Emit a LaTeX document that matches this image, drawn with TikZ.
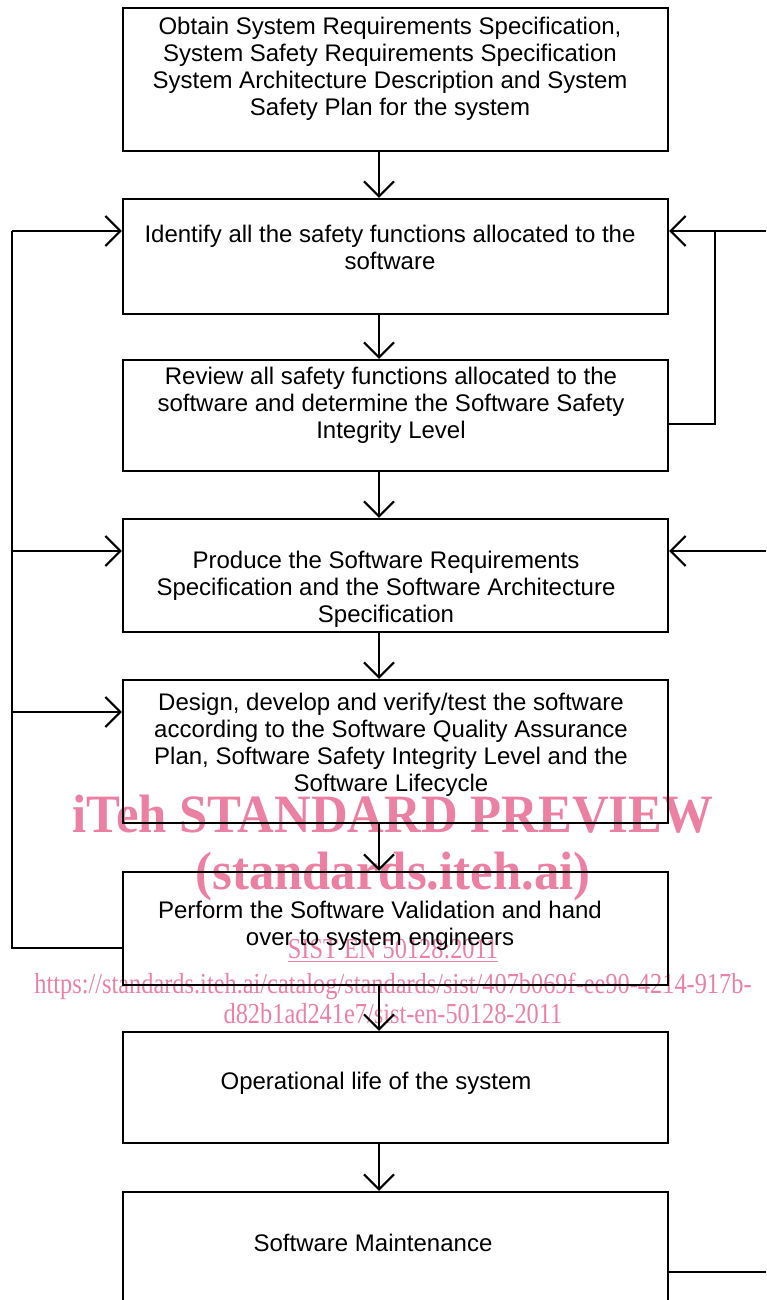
\documentclass[tikz,border=0pt]{standalone}
\usepackage{fontspec}
\setmainfont{Liberation Sans}
\newfontfamily\wmbold[FakeStretch=0.94]{Liberation Serif}
\newfontfamily\wmnarrow[FakeStretch=0.84]{Liberation Serif}
\usetikzlibrary{arrows.meta}
\definecolor{wmpink}{RGB}{236,128,162}
\tikzset{
x=0.5pt, y=-0.5pt, % one unit per pixel, y grows downwards
box/.style={rectangle, draw=black, line width=1.1pt, minimum width=272.5pt, inner sep=0pt}, % process boxes
txt/.style={align=center, inner sep=0pt, font=\fontsize{12}{13.5}\selectfont}, % text inside the boxes
flow/.style={-{Straight Barb[length=7.5pt, width=15pt]}, line width=1.1pt}, % open arrow heads
link/.style={line width=1.1pt},
wmbig/.style={anchor=base, text=wmpink, font=\wmbold\bfseries\fontsize{27}{27}\selectfont},
wmsmall/.style={anchor=base, text=wmpink, font=\wmnarrow\fontsize{14.5}{14.5}\selectfont},
}

\begin{document}
\begin{tikzpicture}
  \useasboundingbox (0,0) rectangle (766,1300);

  % preview stamp, underneath everything
  \node[wmbig] (wm1) at (393,832) {iTeh STANDARD PREVIEW};
  \node[wmbig] (wm2) at (393,889) {(standards.iteh.ai)};
  \node[wmsmall] (wm3) at (393,958) {\underline{SIST EN 50128:2011}};
  \node[wmsmall] (wm4) at (393,993) {https://standards.iteh.ai/catalog/standards/sist/407b069f-ee90-4214-917b-};
  \node[wmsmall] (wm5) at (393,1023) {d82b1ad241e7/sist-en-50128-2011};

  % boxes
  \node[box, minimum height=71.5pt] (obtain) at (395.5,79.5) {};
  \node[box, minimum height=57.5pt] (identify) at (395.5,256.5) {};
  \node[box, minimum height=55.5pt] (review) at (395.5,415.5) {};
  \node[box, minimum height=56.5pt] (produce) at (395.5,575.5) {};
  \node[box, minimum height=71.5pt] (design) at (395.5,751.5) {};
  \node[box, minimum height=56.5pt] (validate) at (395.5,928.5) {};
  \node[box, minimum height=55.5pt] (operate) at (395.5,1087.5) {};
  \node[box, minimum height=74pt] (maintain) at (395.5,1266) {};

  \node[txt] (obtain-txt) at (390,68.5) {Obtain System Requirements Specification,\\System Safety Requirements Specification\\System Architecture Description and System\\Safety Plan for the system};
  \node[txt] (identify-txt) at (390,247.5) {Identify all the safety functions allocated to the\\software};
  \node[txt] (review-txt) at (391,405) {Review all safety functions allocated to the\\software and determine the Software Safety\\Integrity Level};
  \node[txt] (produce-txt) at (386,589) {Produce the Software Requirements\\Specification and the Software Architecture\\Specification};
  \node[txt] (design-txt) at (391,744.5) {Design, develop and verify/test the software\\according to the Software Quality Assurance\\Plan, Software Safety Integrity Level and the\\Software Lifecycle};
  \node[txt] (validate-txt) at (380,925.5) {Perform the Software Validation and hand\\over to system engineers};
  \node[txt] (operate-txt) at (376,1083) {Operational life of the system};
  \node[txt] (maintain-txt) at (373,1243) {Software Maintenance};

  % straight down the page
  \coordinate (axis) at (379,0);
  \foreach \a/\b in {obtain/identify, identify/review, review/produce, produce/design,
                     design/validate, validate/operate, operate/maintain}
    \draw[flow] (\a.south -| axis) -- (\b.north -| axis);

  % right side: feedback coming in from off the sheet
  \coordinate (in-a) at (766,231);
  \coordinate (in-b) at (766,551);
  \coordinate (out-c) at (766,1272);
  \coordinate (loop) at (715,231);
  \draw[flow] (in-a) -- (identify.east |- in-a);
  \draw[link] (review.east |- 0,424) -| (loop);
  \draw[flow] (in-b) -- (produce.east |- in-b);
  \draw[link] (maintain.east |- out-c) -- (out-c);

  % left side: back from validation
  \coordinate (back-top) at (12,231);
  \coordinate (back-bot) at (12,948);
  \draw[link] (validate.west |- back-bot) -- (back-bot) -- (back-top);
  \foreach \y/\n in {231/identify, 551/produce, 712/design}
    \draw[flow] (12,\y) -- (\n.west |- 0,\y);

\end{tikzpicture}
\end{document}
